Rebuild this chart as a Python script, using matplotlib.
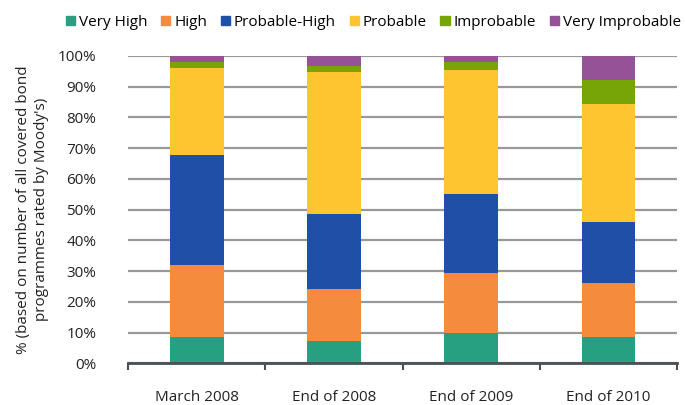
import matplotlib
matplotlib.use("Agg")
import matplotlib.pyplot as plt
import numpy as np
from matplotlib.patches import Patch

plt.rcParams['font.family'] = ['Open Sans', 'DejaVu Sans']

categories = ["March 2008", "End of 2008", "End of 2009", "End of 2010"]
series_names = ["Very High", "High", "Probable-High", "Probable", "Improbable", "Very Improbable"]
very_high = [8.7, 7.3, 9.9, 8.7]
high = [23.2, 16.9, 19.5, 17.4]
probable_high = [35.7, 24.5, 25.8, 20.0]
probable = [28.5, 46.1, 40.2, 38.4]
improbable = [1.9, 1.9, 2.6, 7.8]
very_improbable = [2.0, 3.3, 2.0, 7.7]
colors = ["#27A081", "#F38C3C", "#1F50A8", "#FDC530", "#77A508", "#955296"]

fig = plt.figure(figsize=(6.85, 4.05), dpi=100)
ax = fig.add_axes([0.1873, 0.103, 0.801, 0.759])

x = np.arange(len(categories))
bottom = np.zeros(len(categories))
for name, vals, c in zip(series_names,
                         [very_high, high, probable_high, probable, improbable, very_improbable],
                         colors):
    ax.bar(x, vals, width=0.39, bottom=bottom, color=c, zorder=3, label=name)
    bottom += np.array(vals)

ax.set_xlim(-0.5, 3.5)
ax.set_ylim(0, 100)
ax.set_yticks(np.arange(0, 101, 10))
ax.set_yticklabels([f"{v}%" for v in range(0, 101, 10)], fontsize=11, color="#222222")
ax.yaxis.grid(True, color="#999999", linewidth=1.6, zorder=0)
ax.tick_params(axis='y', length=0, pad=23)

ax.set_xticks(x)
ax.set_xticklabels(categories, fontsize=11, color="#222222")
ax.set_xticks(np.arange(-0.5, 3.6, 1), minor=True)
ax.tick_params(axis='x', which='major', length=0, pad=19)
ax.tick_params(axis='x', which='minor', length=5, width=1.5, color="#4A4F55", direction='out')

for s in ["top", "right", "left"]:
    ax.spines[s].set_visible(False)
ax.spines["bottom"].set_color("#4A4F55")
ax.spines["bottom"].set_linewidth(2)
ax.spines["bottom"].set_zorder(4)

ax.set_ylabel("% (based on number of all covered bond\nprogrammes rated by Moody's)",
              fontsize=11, color="#222222", labelpad=6, linespacing=1.3)

handles = [Patch(color=c, label=n) for n, c in zip(series_names, colors)]
fig.legend(handles=handles, loc="center", bbox_to_anchor=(0.545, 0.945), ncol=6,
           frameon=False, fontsize=11, handlelength=0.6, handleheight=0.6,
           handletextpad=0.25, columnspacing=0.9, borderaxespad=0)

fig.savefig("out.png", dpi=100)
